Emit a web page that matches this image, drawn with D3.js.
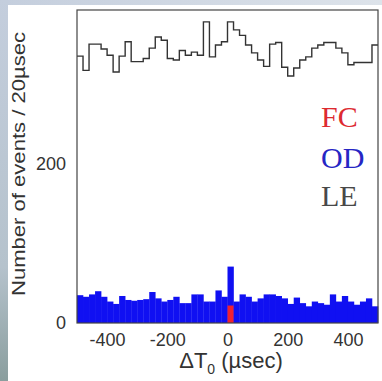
<!DOCTYPE html>
<html>
<head>
<meta charset="utf-8">
<script src="https://cdn.jsdelivr.net/npm/d3@7"></script>
<style>
  html, body { margin: 0; padding: 0; background: #fff; }
  svg { display: block; }
</style>
</head>
<body>
<script>
// 20 µsec bins from -500 to 500 µsec
const binWidth = 20;
const binStart = d3.range(-500, 500, binWidth);

// LE (low energy) counts, drawn as an outline
const leCounts = [336, 318, 351, 351, 345, 337, 316, 336, 354, 329,
                  329, 333, 346, 360, 356, 333, 331, 343, 337, 341,
                  337, 379, 335, 350, 354, 379, 369, 362, 350, 340,
                  331, 323, 351, 353, 322, 311, 321, 331, 335, 346,
                  350, 353, 353, 346, 340, 325, 328, 328, 328, 350];

// OD (outer detector) counts
const odCounts = [35, 33, 36, 40, 33, 27, 24, 34, 29, 28,
                  29, 30, 39, 31, 27, 29, 33, 25, 25, 36,
                  36, 27, 27, 41, 33, 71, 27, 36, 33, 27,
                  31, 36, 36, 34, 31, 24, 32, 25, 21, 27,
                  25, 23, 36, 27, 34, 27, 23, 27, 31, 21];

// FC (fully contained) counts
const fcCounts = [0, 0, 0, 0, 0, 0, 0, 0, 0, 0,
                  0, 0, 0, 0, 0, 0, 0, 0, 0, 0,
                  0, 0, 0, 0, 0, 22, 0, 0, 0, 0,
                  0, 0, 0, 0, 0, 0, 0, 0, 0, 0,
                  0, 0, 0, 0, 0, 0, 0, 0, 0, 0];

const xTicks = [-400, -200, 0, 200, 400];
const yTicks = [0, 200];
const legendNames = ["FC", "OD", "LE"];
const legendColors = ["#dd2a30", "#2626c4", "#484848"];

const W = 382, H = 381;
const plot = {left: 77, right: 378, top: 10, bottom: 323};

const svg = d3.select("body").append("svg")
    .attr("width", W)
    .attr("height", H);

// slide background edges
const defs = svg.append("defs");
const gl = defs.append("linearGradient").attr("id", "gl")
    .attr("x1", 0).attr("y1", 0).attr("x2", 0).attr("y2", 1);
gl.append("stop").attr("offset", "0%").attr("stop-color", "#c4cedd");
gl.append("stop").attr("offset", "70%").attr("stop-color", "#b5c2cc");
gl.append("stop").attr("offset", "100%").attr("stop-color", "#8a9e9e");
const gt = defs.append("linearGradient").attr("id", "gt")
    .attr("x1", 0).attr("y1", 0).attr("x2", 1).attr("y2", 0);
gt.append("stop").attr("offset", "0%").attr("stop-color", "#c4cedd");
gt.append("stop").attr("offset", "100%").attr("stop-color", "#dde3ea");

svg.append("rect").attr("width", W).attr("height", H).attr("fill", "#fff");
svg.append("rect").attr("x", 0).attr("y", 0).attr("width", W).attr("height", 5).attr("fill", "url(#gt)");
svg.append("rect").attr("x", 0).attr("y", 0).attr("width", 8).attr("height", H).attr("fill", "url(#gl)");

const x = d3.scaleLinear().domain([-500, 500]).range([plot.left, plot.right]);
const y = d3.scaleLinear().domain([0, 394]).range([plot.bottom, plot.top]);

// OD filled histogram
svg.append("g").selectAll("rect")
  .data(odCounts)
  .join("rect")
    .attr("x", (d, i) => x(binStart[i]))
    .attr("width", (d, i) => x(binStart[i] + binWidth) - x(binStart[i]) + 0.3)
    .attr("y", d => y(d))
    .attr("height", d => y(0) - y(d))
    .attr("fill", "#1010f2");

// FC filled histogram
svg.append("g").selectAll("rect")
  .data(fcCounts)
  .join("rect")
    .attr("x", (d, i) => x(binStart[i]))
    .attr("width", (d, i) => x(binStart[i] + binWidth) - x(binStart[i]))
    .attr("y", d => y(d))
    .attr("height", d => y(0) - y(d))
    .attr("fill", "#f02030");

// LE outline histogram
const lePts = leCounts.map((v, i) => [binStart[i], v]);
lePts.push([500, leCounts[leCounts.length - 1]]);
svg.append("path")
    .datum(lePts)
    .attr("fill", "none")
    .attr("stroke", "#333")
    .attr("stroke-width", 1.4)
    .attr("d", d3.line().x(d => x(d[0])).y(d => y(d[1])).curve(d3.curveStepAfter));

// frame
svg.append("rect")
    .attr("x", plot.left).attr("y", plot.top)
    .attr("width", plot.right - plot.left).attr("height", plot.bottom - plot.top)
    .attr("fill", "none").attr("stroke", "#444").attr("stroke-width", 1.2);

const tickFont = "'Liberation Sans', Arial, sans-serif";

const xAxis = svg.append("g")
    .attr("transform", `translate(0,${plot.bottom})`)
    .call(d3.axisBottom(x).tickValues(xTicks).tickSize(0).tickPadding(10));
xAxis.select(".domain").remove();
xAxis.selectAll("text")
    .attr("font-family", tickFont).attr("font-size", 18).attr("fill", "#333")
    .text(d => d < 0 ? "-" + Math.abs(d) : d);

const yAxis = svg.append("g")
    .attr("transform", `translate(${plot.left},0)`)
    .call(d3.axisLeft(y).tickValues(yTicks).tickSize(0).tickPadding(11));
yAxis.select(".domain").remove();
yAxis.selectAll("text")
    .attr("font-family", tickFont).attr("font-size", 18).attr("fill", "#333");

// axis titles
const xTitle = svg.append("text")
    .attr("x", 231).attr("y", 368)
    .attr("text-anchor", "middle")
    .attr("font-family", tickFont).attr("font-size", 22).attr("fill", "#333");
xTitle.append("tspan").text("\u0394T");
xTitle.append("tspan").attr("font-size", 14).attr("dy", 6).text("0");
xTitle.append("tspan").attr("dy", -6).text(" (\u00b5sec)");

svg.append("text")
    .attr("transform", "translate(25,164) rotate(-90)")
    .attr("text-anchor", "middle")
    .attr("font-family", tickFont).attr("font-size", 19).attr("fill", "#333")
    .attr("textLength", 264).attr("lengthAdjust", "spacingAndGlyphs")
    .text("Number of events / 20\u00b5sec");

// legend
const legendY = [127, 168, 206];
svg.append("g").selectAll("text")
  .data(legendNames)
  .join("text")
    .attr("x", 321)
    .attr("y", (d, i) => legendY[i])
    .attr("font-family", "'Liberation Serif', 'Times New Roman', serif")
    .attr("font-size", 30)
    .attr("fill", (d, i) => legendColors[i])
    .text(d => d);
</script>
</body>
</html>
